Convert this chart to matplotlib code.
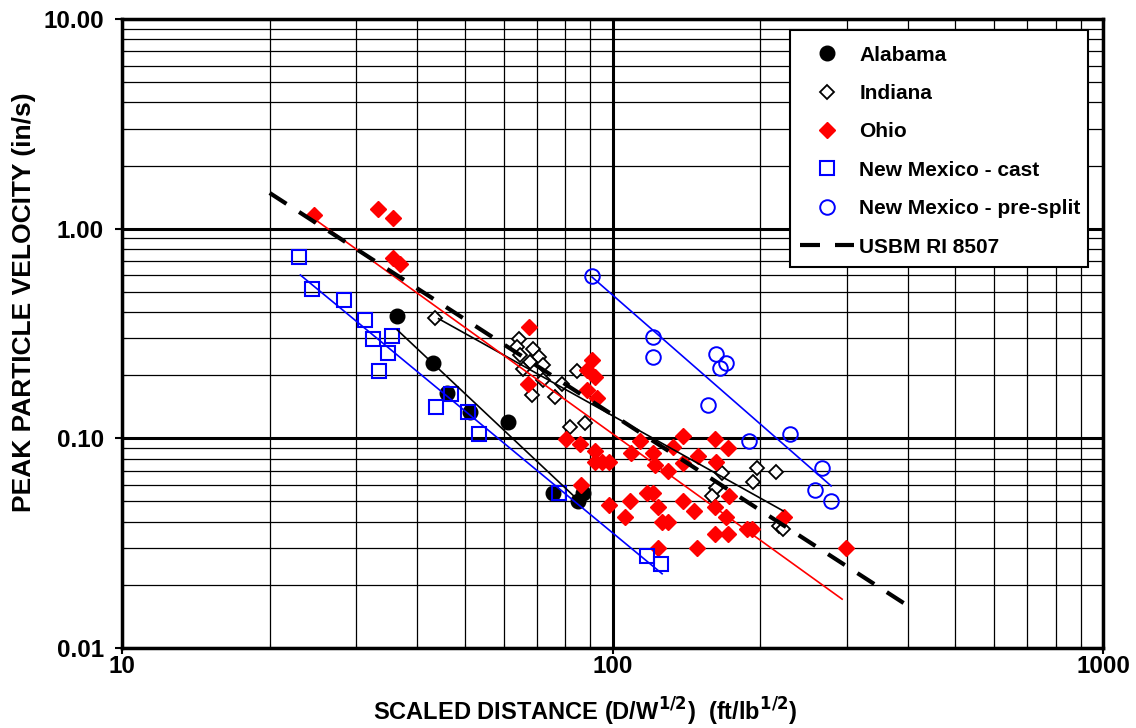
import matplotlib
matplotlib.use("Agg")
import matplotlib.pyplot as plt
from matplotlib.patches import Rectangle
from matplotlib.ticker import FixedLocator, FixedFormatter, NullFormatter

plt.rcParams['font.family'] = ['Liberation Sans', 'DejaVu Sans']
plt.rcParams['font.weight'] = 'bold'

# data (scaled distance, peak particle velocity)
alabama_sd = [36.4, 43.1, 46.0, 51.2, 61.2, 75.6, 87.1, 85.1]
alabama_ppv = [0.384, 0.229, 0.165, 0.134, 0.120, 0.055, 0.055, 0.050]

indiana_sd = [43.5, 64.5, 63.9, 68.9, 64.8, 70.8, 67.9, 72.2, 65.7, 72.2, 78.9, 68.5,
              76.3, 84.7, 81.9, 87.9, 167.2, 162.6, 159.6, 197.0, 193.4, 215.4, 218.5, 222.7]
indiana_ppv = [0.375, 0.298, 0.273, 0.267, 0.250, 0.245, 0.231, 0.224, 0.214, 0.190, 0.182, 0.161,
               0.158, 0.210, 0.113, 0.118, 0.068, 0.058, 0.053, 0.072, 0.062, 0.069, 0.038, 0.037]

ohio_sd = [24.6, 33.3, 35.7, 35.7, 36.9, 67.6, 67.3, 90.8, 88.7, 92.1, 88.7, 93.0,
           80.4, 85.9, 92.1, 92.1, 95.2, 98.4, 86.3, 98.4, 106.1, 108.6, 109.1, 113.8,
           120.9, 122.1, 129.8, 132.8, 139.2, 139.2, 117.6, 120.9, 123.8, 126.2, 129.8, 123.8,
           139.2, 146.6, 148.7, 149.4, 161.8, 172.0, 162.6, 172.8, 161.8, 170.3, 161.8, 172.0,
           188.0, 192.5, 223.7, 299.3]
ohio_ppv = [1.162, 1.242, 1.125, 0.725, 0.679, 0.340, 0.182, 0.237, 0.212, 0.196, 0.170, 0.156,
            0.099, 0.094, 0.087, 0.077, 0.077, 0.077, 0.060, 0.048, 0.042, 0.050, 0.085, 0.097,
            0.085, 0.075, 0.070, 0.091, 0.103, 0.076, 0.055, 0.055, 0.047, 0.040, 0.040, 0.030,
            0.050, 0.045, 0.030, 0.082, 0.099, 0.090, 0.077, 0.053, 0.047, 0.042, 0.035, 0.035,
            0.037, 0.037, 0.042, 0.030]

nm_cast_sd = [23.0, 24.4, 28.4, 31.3, 32.5, 35.5, 34.8, 33.4, 43.7, 46.9, 50.8, 53.4,
              77.8, 117.6, 125.6]
nm_cast_ppv = [0.733, 0.516, 0.457, 0.367, 0.298, 0.308, 0.256, 0.210, 0.141, 0.163, 0.134, 0.105,
               0.055, 0.0275, 0.0252]

nm_split_sd = [90.8, 120.9, 120.9, 162.6, 170.3, 165.6, 156.6, 189.8, 230.1, 267.4, 258.7, 279.0]
nm_split_ppv = [0.595, 0.304, 0.245, 0.253, 0.229, 0.217, 0.144, 0.097, 0.105, 0.072, 0.057, 0.050]

# trend line end points
alabama_fit_sd, alabama_fit_ppv = [36.4, 86.7], [0.329, 0.0487]
indiana_fit_sd, indiana_fit_ppv = [44.2, 222.7], [0.372, 0.0451]
ohio_fit_sd, ohio_fit_ppv = [24.5, 293.8], [1.125, 0.0171]
nm_cast_fit_sd, nm_cast_fit_ppv = [23.1, 126.2], [0.601, 0.0226]
nm_split_fit_sd, nm_split_fit_ppv = [90.8, 279.0], [0.588, 0.0593]
usbm_sd, usbm_ppv = [20, 400], [1.48, 0.0159]

fig = plt.figure(figsize=(11.36, 7.28), dpi=100)
ax = fig.add_axes([0.1074, 0.1099, 0.8636, 0.864])

ax.set_xscale('log')
ax.set_yscale('log')
ax.set_xlim(10, 1000)
ax.set_ylim(0.01, 10)

# grid
ax.grid(True, which='major', color='black', linewidth=2.2, zorder=0)
ax.grid(True, which='minor', color='black', linewidth=0.9, zorder=0)
ax.set_axisbelow(True)

ax.plot(alabama_sd, alabama_ppv, 'o', color='black', markersize=10.5, linestyle='none',
        label='Alabama', zorder=3)
ax.plot(indiana_sd, indiana_ppv, 'D', markerfacecolor='white', markeredgecolor='black',
        markeredgewidth=1.3, markersize=7.5, linestyle='none', label='Indiana', zorder=3)
ax.plot(ohio_sd, ohio_ppv, 'D', color='red', markersize=8.5, linestyle='none',
        label='Ohio', zorder=3)
ax.plot(nm_cast_sd, nm_cast_ppv, 's', markerfacecolor='none', markeredgecolor='blue',
        markeredgewidth=1.5, markersize=10.5, linestyle='none', label='New Mexico - cast', zorder=3)
ax.plot(nm_split_sd, nm_split_ppv, 'o', markerfacecolor='none', markeredgecolor='blue',
        markeredgewidth=1.4, markersize=10.5, linestyle='none', label='New Mexico - pre-split', zorder=3)

ax.plot(alabama_fit_sd, alabama_fit_ppv, color='black', linewidth=1.2, zorder=4)
ax.plot(indiana_fit_sd, indiana_fit_ppv, color='black', linewidth=1.2, zorder=4)
ax.plot(ohio_fit_sd, ohio_fit_ppv, color='red', linewidth=1.2, zorder=4)
ax.plot(nm_cast_fit_sd, nm_cast_fit_ppv, color='blue', linewidth=1.2, zorder=4)
ax.plot(nm_split_fit_sd, nm_split_fit_ppv, color='blue', linewidth=1.2, zorder=4)
ax.plot(usbm_sd, usbm_ppv, color='black', linewidth=3, dashes=(4.8, 3.6),
        label='USBM RI 8507', zorder=5)

# ticks
ax.xaxis.set_major_locator(FixedLocator([10, 100, 1000]))
ax.xaxis.set_major_formatter(FixedFormatter(['10', '100', '1000']))
ax.xaxis.set_minor_formatter(NullFormatter())
ax.yaxis.set_major_locator(FixedLocator([0.01, 0.1, 1, 10]))
ax.yaxis.set_major_formatter(FixedFormatter(['0.01', '0.10', '1.00', '10.00']))
ax.yaxis.set_minor_formatter(NullFormatter())
ax.tick_params(which='major', direction='out', length=4, width=1.5, labelsize=17.5, pad=1)
ax.tick_params(axis='y', which='major', length=5, pad=8)
ax.tick_params(which='minor', direction='in', length=3, width=0.8)

for s in ax.spines.values():
    s.set_linewidth(2.5)

ax.set_xlabel('SCALED DISTANCE (D/W$^{\\mathbf{1/2}}$)  (ft/lb$^{\\mathbf{1/2}}$)',
              fontsize=17, fontweight='bold')
ax.xaxis.set_label_coords(0.472, -0.076)
ax.set_ylabel('PEAK PARTICLE VELOCITY (in/s)', fontsize=19, fontweight='bold')
ax.yaxis.set_label_coords(-0.088, 0.55)

# legend box drawn separately so its padding can match the original
box = Rectangle((0.681, 0.6057), 0.3037, 0.3768, transform=ax.transAxes,
                facecolor='white', edgecolor='black', linewidth=1.5, zorder=6)
ax.add_patch(box)

leg = ax.legend(loc='upper left', bbox_to_anchor=(0.6753, 0.9825), fontsize=15,
                frameon=False, borderpad=0.75, labelspacing=0.93,
                handlelength=2.6, handletextpad=0.24, borderaxespad=0)
leg.set_zorder(7)
for t in leg.get_texts():
    t.set_fontweight('bold')

fig.savefig('out.png', dpi=100, facecolor='white')
